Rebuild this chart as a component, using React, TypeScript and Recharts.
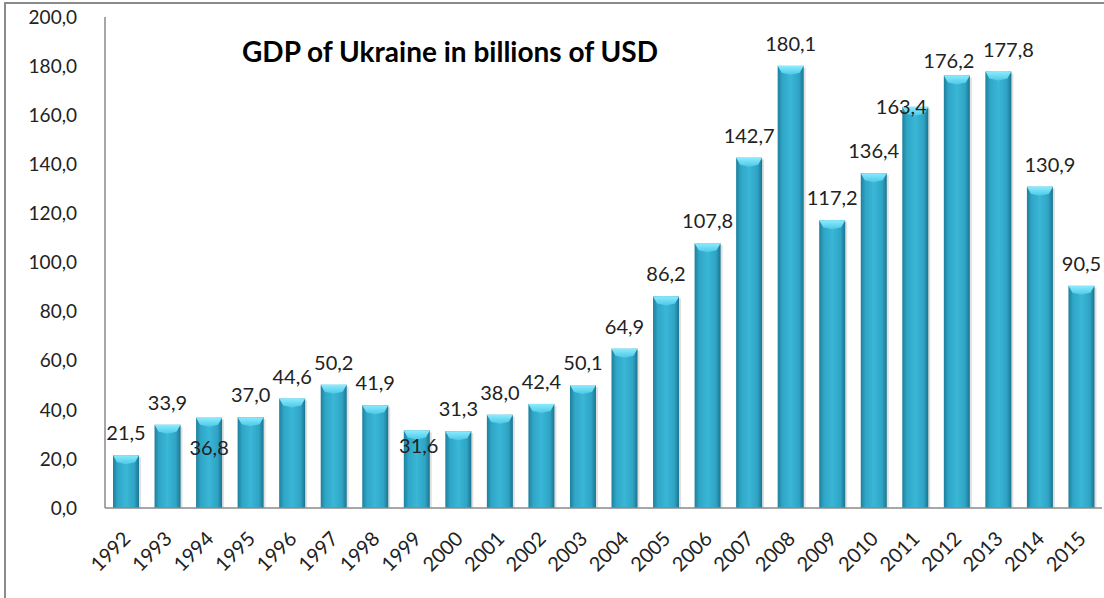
import React from 'react';
import { BarChart, Bar, XAxis, YAxis, LabelList } from 'recharts';

const YEARS = [
  '1992', '1993', '1994', '1995', '1996', '1997', '1998', '1999', '2000', '2001', '2002', '2003',
  '2004', '2005', '2006', '2007', '2008', '2009', '2010', '2011', '2012', '2013', '2014', '2015',
];
const GDP = [
  21.5, 33.9, 36.8, 37.0, 44.6, 50.2, 41.9, 31.6, 31.3, 38.0, 42.4, 50.1,
  64.9, 86.2, 107.8, 142.7, 180.1, 117.2, 136.4, 163.4, 176.2, 177.8, 130.9, 90.5,
];
const Y_TICKS = [0, 20, 40, 60, 80, 100, 120, 140, 160, 180, 200];

// label nudges, Excel had a few placed by hand
const LABEL_NUDGE: Record<number, [number, number]> = {
  2: [0, 52],
  7: [2, 38],
  19: [-14, 22],
  20: [-8, 8],
  21: [10, 0],
  22: [10, 0],
};

const data = YEARS.map((year, i) => ({ year, gdp: GDP[i] }));
const fmt = (v: number) => v.toFixed(1).replace('.', ',');
const FONT = 'Lato, "Open Sans", sans-serif';

const BarShape = (props: any) => {
  const { x, y, width, height } = props;
  if (!height || height <= 0) return null;
  const cap = 7;
  return (
    <g>
      <rect x={x + 2} y={y + 2} width={width} height={height - 2} fill="#000" opacity={0.12} />
      <rect x={x} y={y} width={width} height={height} fill="url(#barGrad)" />
      <polygon
        points={`${x},${y} ${x + width},${y} ${x + width - 4},${y + cap} ${x + width / 2},${y + cap + 2} ${x + 4},${y + cap}`}
        fill="url(#capGrad)"
      />
    </g>
  );
};

const ValueLabel = (props: any) => {
  const { x, y, width, value, index } = props;
  const [dx, dy] = LABEL_NUDGE[index] ?? [0, 0];
  return (
    <text
      x={x + width / 2 + dx}
      y={y - 15 + dy}
      textAnchor="middle"
      fontSize={20}
      fontFamily={FONT}
      fill="#222"
    >
      {fmt(value)}
    </text>
  );
};

const YearTick = (props: any) => {
  const { x, y, payload } = props;
  const ax = x + 6;
  const ay = y + 24;
  return (
    <text
      x={ax}
      y={ay}
      textAnchor="end"
      fontSize={20}
      fontFamily={FONT}
      fill="#222"
      transform={`rotate(-45, ${ax}, ${ay})`}
    >
      {payload.value}
    </text>
  );
};

export default function App() {
  return (
    <div style={{ position: 'absolute', left: 0, top: 0, width: 1104, height: 598, background: '#fff' }}>
      <div
        style={{
          position: 'absolute', left: 4, top: 2, width: 1120, height: 620,
          borderLeft: '2px solid #8a8a8a', borderTop: '2px solid #8a8a8a',
        }}
      />
      <BarChart
        width={1104}
        height={598}
        data={data}
        margin={{ top: 17, right: 2, bottom: 0, left: 0 }}
        barSize={26}
      >
        <defs>
          <linearGradient id="barGrad" x1="0" y1="0" x2="1" y2="0">
            <stop offset="0%" stopColor="#1e7f9c" />
            <stop offset="18%" stopColor="#2fa6c6" />
            <stop offset="50%" stopColor="#3ab6d7" />
            <stop offset="82%" stopColor="#2fa4c4" />
            <stop offset="100%" stopColor="#1b7490" />
          </linearGradient>
          <linearGradient id="capGrad" x1="0" y1="0" x2="0" y2="1">
            <stop offset="0%" stopColor="#8becff" />
            <stop offset="100%" stopColor="#4cc8e6" />
          </linearGradient>
        </defs>
        <XAxis
          dataKey="year"
          interval={0}
          tickLine={false}
          axisLine={{ stroke: '#8a8a8a', strokeWidth: 1.5 }}
          height={90}
          tick={<YearTick />}
        />
        <YAxis
          domain={[0, 200]}
          ticks={Y_TICKS}
          interval={0}
          width={105}
          tickLine={false}
          tickMargin={22}
          axisLine={{ stroke: '#8a8a8a', strokeWidth: 1.5 }}
          tickFormatter={fmt}
          tick={{ fontSize: 19, fontFamily: FONT, fill: '#222' }}
        />
        <Bar dataKey="gdp" shape={<BarShape />} isAnimationActive={false}>
          <LabelList dataKey="gdp" content={<ValueLabel />} />
        </Bar>
        <text x={450} y={62} textAnchor="middle" fontSize={28} fontWeight="bold" fontFamily={FONT} fill="#000">
          GDP of Ukraine in billions of USD
        </text>
      </BarChart>
    </div>
  );
}
